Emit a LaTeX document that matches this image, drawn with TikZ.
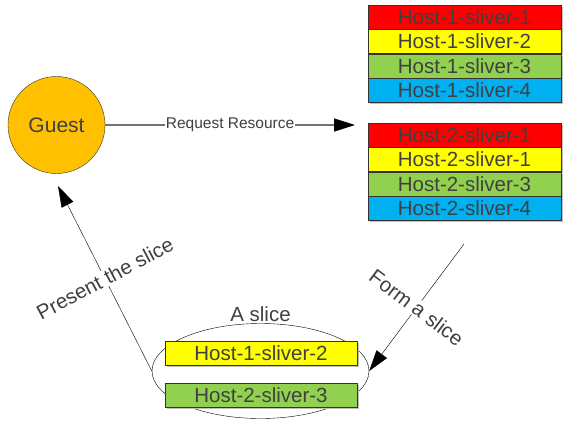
\documentclass[tikz,border=0pt]{standalone}
\usepackage{fontspec}
\setmainfont{Liberation Sans}
\usetikzlibrary{positioning,arrows.meta,shapes.geometric,shadows}
\definecolor{SlRed}{RGB}{255,0,0}
\definecolor{SlYellow}{RGB}{255,255,0}
\definecolor{SlGreen}{RGB}{146,208,80}
\definecolor{SlBlue}{RGB}{0,176,240}
\definecolor{GuestOrange}{RGB}{255,192,0}
\definecolor{TextGrey}{RGB}{64,64,64}
\begin{document}
\begin{tikzpicture}[x=1pt,y=-1pt,
      >={Triangle[length=21pt,width=13pt,color=black]},
      sl/.style={draw=black!80,fill=#1,minimum width=193pt,minimum height=24pt,inner sep=0pt,
                 font=\fontsize{20.5}{22}\selectfont,text=TextGrey,
                 drop shadow={shadow xshift=2pt,shadow yshift=-2pt,fill=black!25,opacity=1}},
      lbl/.style={fill=white,inner sep=1pt,text=TextGrey,font=\fontsize{20.5}{22}\selectfont},
      arrow/.style={->,draw=black,thin}]
    \useasboundingbox (0,0) rectangle (564,423);
    % guest
    \node[circle,draw=black!80,fill=GuestOrange,minimum size=97pt,text=TextGrey,
          font=\fontsize{21}{22}\selectfont] (guest) at (56.5,125) {Guest};
    % host 1
    \node[sl=SlRed] (h1s1) at (464.5,17) {Host-1-sliver-1};
    \node[sl=SlYellow,below=0pt of h1s1] (h1s2) {Host-1-sliver-2};
    \node[sl=SlGreen,below=0pt of h1s2] (h1s3) {Host-1-sliver-3};
    \node[sl=SlBlue,below=0pt of h1s3] (h1s4) {Host-1-sliver-4};
    % host 2
    \node[sl=SlRed] (h2s1) at (464.5,135) {Host-2-sliver-1};
    \node[sl=SlYellow,below=0pt of h2s1] (h2s2) {Host-2-sliver-1};
    \node[sl=SlGreen,below=0pt of h2s2] (h2s3) {Host-2-sliver-3};
    \node[sl=SlBlue,below=0pt of h2s3] (h2s4) {Host-2-sliver-4};
    % the slice
    \node[ellipse,draw,thin,minimum width=217pt,minimum height=95pt,
          label={[text=TextGrey,font=\fontsize{20.5}{22}\selectfont,inner sep=1pt]above:A slice}] (slice) at (260.5,371) {};
    \node[sl=SlYellow,minimum width=192pt] (s1) at (261,353) {Host-1-sliver-2};
    \node[sl=SlGreen,minimum width=192pt] (s2) at (261,395) {Host-2-sliver-3};
    % connectors
    \coordinate (req) at (355,125);
    \coordinate (form) at (464,244);
    \coordinate (pres) at (58,186);
    \draw[->,draw=black!55,line width=1.4pt] (guest) -- node[lbl,font=\fontsize{15.5}{16}\selectfont]{Request Resource} (req);
    \draw[arrow] (form) -- node[lbl,rotate=-37]{Form a slice} (slice.east);
    \draw[arrow] (slice.west) -- node[lbl,rotate=28]{Present the slice} (pres);
  \end{tikzpicture}
\end{document}
